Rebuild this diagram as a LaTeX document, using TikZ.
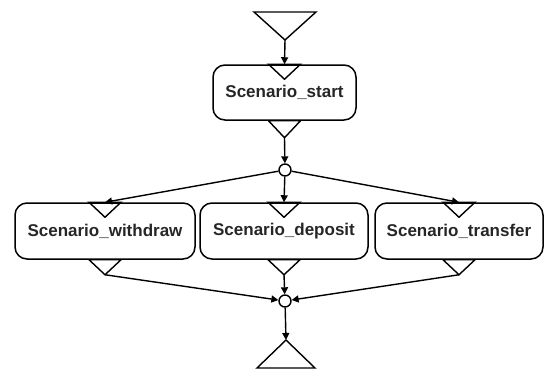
\documentclass[tikz,border=0pt]{standalone}
\usepackage{fontspec}
\setmainfont{Liberation Sans}
\usetikzlibrary{arrows.meta}
\tikzset{
  box/.style={draw, line width=1.5pt, rounded corners=12pt, inner sep=0pt,
    font=\fontsize{17}{19}\selectfont\bfseries, text=black!85},
  tri/.style={draw, line width=1.4pt, line join=miter},
  conn/.style={line width=1.4pt, -{Triangle[length=7pt,width=7pt]}},
  dot/.style={circle, draw, line width=1.4pt, fill=white, inner sep=0pt, minimum size=12pt}
}
\begin{document}
\begin{tikzpicture}[x=1pt,y=-1pt]
\useasboundingbox (0,0) rectangle (545,370);
% top triangle
\coordinate (topapex) at (285,40);
\draw[tri] (254,12) -- (316,12) -- (topapex) -- cycle;
% start box
\node[box, minimum width=143pt, minimum height=55pt] (start) at (284.5,92.5) {Scenario\_start};
\draw[tri] ([xshift=-16pt]start.north) -- ([xshift=16pt]start.north) -- ([yshift=-15pt]start.north) -- cycle;
\coordinate (startout) at ([yshift=-17pt]start.south);
\draw[tri] ([xshift=-16pt]start.south) -- ([xshift=16pt]start.south) -- (startout) -- cycle;
% fork
\node[dot] (fork) at (285,170) {};
% three boxes
\node[box, minimum width=180pt, minimum height=56pt] (withdraw) at (105,231) {Scenario\_withdraw};
\node[box, minimum width=168pt, minimum height=56pt] (deposit) at (284,231) {Scenario\_deposit};
\node[box, minimum width=168pt, minimum height=56pt] (transfer) at (459,231) {Scenario\_transfer};
\foreach \b in {withdraw,deposit,transfer}{
  \draw[tri] ([xshift=-16pt]\b.north) -- ([xshift=16pt]\b.north) -- ([yshift=-15pt]\b.north) -- cycle;
  \coordinate (\b out) at ([yshift=-15pt]\b.south);
  \draw[tri] ([xshift=-16pt]\b.south) -- ([xshift=16pt]\b.south) -- (\b out) -- cycle;
}
% join
\node[dot] (join) at (285,301) {};
% bottom triangle
\coordinate (endapex) at (286,340);
\draw[tri] (endapex) -- (315,368) -- (257,368) -- cycle;
% connectors
\draw[conn] (topapex) -- (start.north);
\draw[conn] (startout) -- (fork);
\draw[conn] (fork) -- (withdraw.north);
\draw[conn] (fork) -- (deposit.north);
\draw[conn] (fork) -- (transfer.north);
\draw[conn] (withdrawout) -- (join);
\draw[conn] (depositout) -- (join);
\draw[conn] (transferout) -- (join);
\draw[conn] (join) -- (endapex);
\end{tikzpicture}
\end{document}
